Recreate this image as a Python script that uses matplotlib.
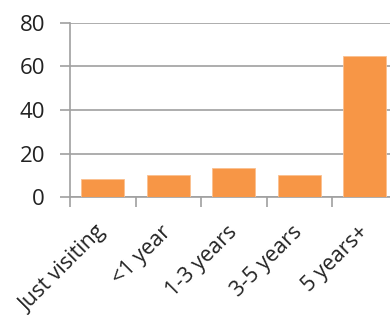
import matplotlib.pyplot as plt
import numpy as np

categories = ['Just visiting', '<1 year', '1-3 years', '3-5 years', '5 years+']
values = [8.4, 10.3, 13.2, 10.3, 65]
yticks = [0, 20, 40, 60, 80]

plt.rcParams['font.family'] = ['Open Sans', 'DejaVu Sans']

fig = plt.figure(figsize=(3.9, 3.15), dpi=100)
# axes runs past the right edge of the figure, like the cropped original
ax = fig.add_axes([70 / 390, 118 / 315, 327.5 / 390, 174 / 315])

x = np.arange(len(categories))
ax.bar(x, values, width=0.66, color='#F79646', edgecolor='#FAC090', linewidth=0.6, zorder=3)

ax.set_xlim(-0.5, len(categories) - 0.5)
ax.set_ylim(0, 80)
ax.set_yticks(yticks)
ax.yaxis.grid(True, color='#a0a0a0', linewidth=1.2, zorder=0)

for s in ['top', 'right']:
    ax.spines[s].set_visible(False)
for s in ['left', 'bottom']:
    ax.spines[s].set_color('#a0a0a0')
    ax.spines[s].set_linewidth(1.2)

ax.tick_params(axis='y', length=7, width=1.2, color='#a0a0a0', pad=11,
               labelsize=16, labelcolor='#222222')
ax.set_xticks(x - 0.5, minor=False)
ax.set_xticklabels([])
ax.set_xticks(x, minor=True)
ax.set_xticklabels(categories, minor=True, rotation=45, ha='right', va='center',
                   rotation_mode='anchor', fontsize=15.5, color='#222222')
ax.tick_params(axis='x', which='major', length=7, width=1.2, color='#a0a0a0')
ax.tick_params(axis='x', which='minor', length=0, pad=23)

fig.savefig('out.png', dpi=100)
